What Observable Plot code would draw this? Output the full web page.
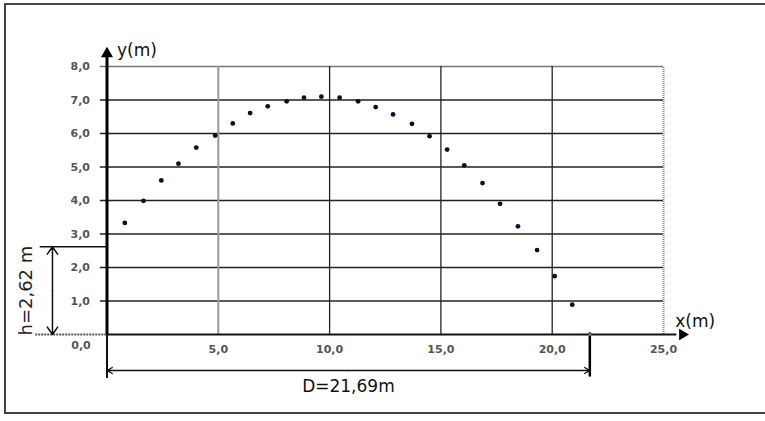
<!DOCTYPE html>
<html>
<head>
<meta charset="utf-8">
<script src="https://cdn.jsdelivr.net/npm/d3@7"></script>
<script src="https://cdn.jsdelivr.net/npm/@observablehq/plot@0.6"></script>
<style>
  html, body { margin: 0; padding: 0; background: #fff; }
  #wrap { position: relative; width: 765px; height: 421px; overflow: hidden; }
  #border { position: absolute; left: 4px; top: 3px; width: 790px; height: 411px; border: 2px solid #444; box-sizing: border-box; pointer-events: none; }
  svg { position: absolute; left: 0; top: 0; }
</style>
</head>
<body>
<div id="wrap"><div id="border"></div></div>
<script>
// Trajectory points (x in m, y in m)
const xs = [0.80, 1.64, 2.44, 3.21, 4.01, 4.86, 5.65, 6.43, 7.22, 8.07, 8.85, 9.63, 10.45,
            11.28, 12.07, 12.85, 13.70, 14.49, 15.28, 16.05, 16.87, 17.66, 18.46, 19.32, 20.11, 20.90];
const ys = [3.33, 3.99, 4.60, 5.10, 5.58, 5.94, 6.30, 6.61, 6.81, 6.96, 7.07, 7.10, 7.07,
            6.96, 6.79, 6.57, 6.29, 5.92, 5.52, 5.05, 4.52, 3.90, 3.23, 2.52, 1.74, 0.89];
const launchHeight = 2.62;   // h
const rangeD = 21.69;        // D
const yTicks = [1, 2, 3, 4, 5, 6, 7, 8];
const xTicks = [5, 10, 15, 20, 25];
const yTickLabels = ["1,0", "2,0", "3,0", "4,0", "5,0", "6,0", "7,0", "8,0"];
const xTickLabels = ["5,0", "10,0", "15,0", "20,0", "25,0"];
const originLabel = "0,0";
const hLabel = "h=2,62 m";
const dLabel = "D=21,69m";
const xAxisLabel = "x(m)";
const yAxisLabel = "y(m)";

const pts = xs.map((x, i) => ({x, y: ys[i]}));
const font = "DejaVu Sans, Verdana, sans-serif";
const hX = -2.45, dY = -1.075;

const chart = Plot.plot({
  width: 765,
  height: 421,
  marginLeft: 106.5,
  marginRight: 102,
  marginTop: 66,
  marginBottom: 87,
  x: {domain: [0, 25], axis: null},
  y: {domain: [0, 8], axis: null},
  style: {background: "transparent", overflow: "visible"},
  marks: [
    // horizontal grid lines (with small ticks left of the axis)
    Plot.ruleY(yTicks.filter(d => d < 8), {x1: -0.3, x2: 25, stroke: "#222", strokeWidth: 1.3}),
    Plot.ruleY(yTicks.filter(d => d === 8), {x1: -0.3, x2: 25, stroke: "#777", strokeWidth: 1.3}),
    // vertical grid lines
    Plot.ruleX(xTicks.filter(d => d === 5), {y1: 0, y2: 8, stroke: "#999", strokeWidth: 2}),
    Plot.ruleX(xTicks.filter(d => d > 5 && d < 25), {y1: 0, y2: 8, stroke: "#222", strokeWidth: 1.3}),
    Plot.ruleX(xTicks.filter(d => d === 25), {y1: 0, y2: 8, stroke: "#888", strokeWidth: 2, strokeDasharray: "1,1"}),
    // x axis line (dotted part left of origin) and arrow
    Plot.ruleY([0], {x1: -3.2, x2: 0, stroke: "#555", strokeWidth: 2, strokeDasharray: "2,1"}),
    Plot.ruleY([0], {x1: 0, x2: 25.6, stroke: "#111", strokeWidth: 2}),
    Plot.dot([0], {x: 25.85, y: 0, symbol: "triangle", r: 4.2, fill: "#000", stroke: "none", rotate: 90}),
    // y axis line and arrow
    Plot.ruleX([0], {y1: 0, y2: 8.35, stroke: "#000", strokeWidth: 3}),
    Plot.dot([0], {x: 0, y: 8.38, symbol: "triangle", r: 4.5, fill: "#000", stroke: "none"}),
    // tick labels
    Plot.text(yTicks, {x: 0, y: d => d, text: (d, i) => yTickLabels[i], textAnchor: "end", dx: -17,
      fontSize: 11, fontFamily: font, fontWeight: "bold", fill: "#555", ariaLabel: "ticklabel"}),
    Plot.text(xTicks, {x: d => d, y: 0, text: (d, i) => xTickLabels[i], dy: 15,
      fontSize: 11, fontFamily: font, fontWeight: "bold", fill: "#555", ariaLabel: "ticklabel"}),
    Plot.text([0], {x: 0, y: 0, text: () => originLabel, dx: -26, dy: 11,
      fontSize: 11, fontFamily: font, fontWeight: "bold", fill: "#555", ariaLabel: "ticklabel"}),
    // axis titles
    Plot.text([0], {x: 0, y: 8.48, text: () => yAxisLabel, textAnchor: "start", dx: 10,
      fontSize: 17, fontFamily: font, fill: "#111"}),
    Plot.text([0], {x: 25.53, y: 0.39, text: () => xAxisLabel, textAnchor: "start",
      fontSize: 17, fontFamily: font, fill: "#111"}),
    // h dimension (double-headed arrow drawn as two arrows from the middle)
    Plot.ruleY([launchHeight], {x1: -3.0, x2: 0, stroke: "#111", strokeWidth: 1.5}),
    Plot.arrow([launchHeight], {x1: hX, y1: d => d / 2, x2: hX, y2: d => d, stroke: "#111", strokeWidth: 1.5,
      headLength: 9, headAngle: 70}),
    Plot.arrow([launchHeight], {x1: hX, y1: d => d / 2, x2: hX, y2: 0, stroke: "#111", strokeWidth: 1.5,
      headLength: 9, headAngle: 70}),
    Plot.text([launchHeight], {x: -3.62, y: d => d / 2, text: () => hLabel, rotate: -90,
      fontSize: 18, fontFamily: font, fill: "#222"}),
    // D dimension
    Plot.ruleX([0], {y1: 0, y2: -1.31, stroke: "#111", strokeWidth: 2}),
    Plot.ruleX([rangeD], {y1: 0.05, y2: -1.27, stroke: "#000", strokeWidth: 2.5}),
    Plot.arrow([rangeD], {x1: d => d / 2, y1: dY, x2: d => d, y2: dY, stroke: "#111", strokeWidth: 1.3,
      headLength: 7, headAngle: 60}),
    Plot.arrow([rangeD], {x1: d => d / 2, y1: dY, x2: 0, y2: dY, stroke: "#111", strokeWidth: 1.3,
      headLength: 7, headAngle: 60}),
    Plot.text([rangeD], {x: d => d / 2, y: -1.55, text: () => dLabel,
      fontSize: 17, fontFamily: font, fill: "#111"}),
    // trajectory points
    Plot.dot(pts, {x: "x", y: "y", r: 2.4, fill: "#0b0b2e", stroke: "none"}),
    Plot.dot([rangeD], {x: d => d, y: 0, r: 1.5, fill: "#6670c0", stroke: "none"})
  ]
});

d3.select(chart).selectAll("g[aria-label='ticklabel'] text").style("letter-spacing", "1px");
document.getElementById("wrap").prepend(chart);
</script>
</body>
</html>
